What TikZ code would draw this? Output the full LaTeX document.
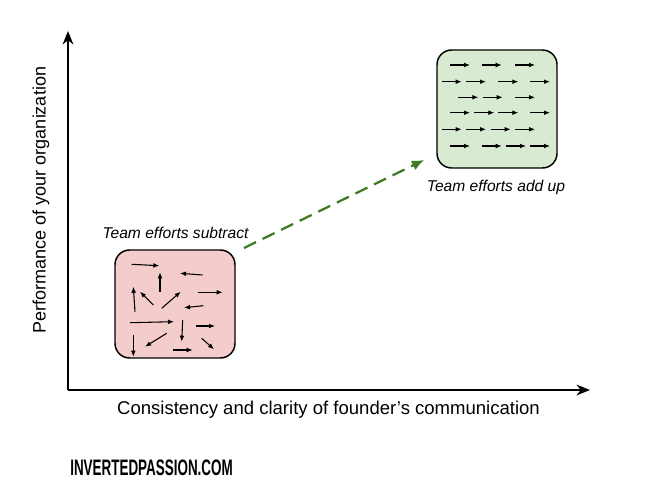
\documentclass[tikz,border=0pt]{standalone}
\usepackage{fontspec}
\setmainfont{Liberation Sans}
\usetikzlibrary{arrows.meta}
\definecolor{redfill}{HTML}{F4CCCC}
\definecolor{greenfill}{HTML}{D9EAD3}
\definecolor{dashgreen}{HTML}{3E7B25}
\tikzset{
  box/.style={draw=black, line width=1.1, rounded corners=11, minimum width=90, inner sep=0},
  axis/.style={line width=1.5, -{Stealth[length=10, width=8, inset=3]}},
  vec/.style={line width=0.8, -{Latex[length=4.5, width=3.6]}},
  lbl/.style={font=\fontsize{13.9pt}{16pt}\selectfont},
  ylbl/.style={font=\fontsize{13.5pt}{16pt}\selectfont},
  ital/.style={font=\fontsize{11.7pt}{14pt}\selectfont\itshape, inner sep=0},
}
\begin{document}
\begin{tikzpicture}[x=0.75pt, y=-0.75pt]
\useasboundingbox (0,0) rectangle (671,503);
% axes
\coordinate (O) at (68,390);
\coordinate (ytip) at (68,31);
\coordinate (xtip) at (590,390);
\draw[axis] (O) -- (ytip);
\draw[axis] (O) -- (xtip);
\node[lbl] (xlabel) at (328.5,410) {Consistency and clarity of founder’s communication};
\node[ylbl, rotate=90] (ylabel) at (41,200) {Performance of your organization};
% boxes
\node[box, fill=redfill, minimum height=81] (red) at (175,304) {};
\node[box, fill=greenfill, minimum height=88.5] (green) at (497,109) {};
\node[ital, anchor=base] (redlbl) at (175.5,238) {Team efforts subtract};
\node[ital, anchor=base] (greenlbl) at (496,191) {Team efforts add up};
% dashed connector
\coordinate (dstart) at (244,248);
\coordinate (dend) at (424,160);
\draw[line width=1.7, dashgreen, dash pattern=on 10 off 5.5, -{Latex[length=9, width=8]}] (dstart) -- (dend);
% chaotic arrows
\foreach \a/\b/\c/\d in {
131.7/264.3/159.3/265.7, 160/291.7/160/272.3, 202.7/275/180/273.3,
135/311.7/133.3/286.7, 153.3/305/140/291.7, 161.7/308.3/180.7/291.7,
198.3/292.3/222.7/292.3, 203.3/305.7/184/307.7, 130/322.7/174/321.7,
182.7/320/181.7/341.7, 196/326/215/326, 133.3/335/133.3/356.7,
166.7/333.3/145/346.7, 173.3/350/192.7/350, 201.7/338.3/214/349.3}
  \draw[vec] (\a,\b) -- (\c,\d);
% aligned arrows
\foreach \y/\xs in {65/{450,481.7,515}, 81.7/{441.7,466,498.3,530}, 97.3/{458.3,482.7,515},
  112.7/{450,474.3,498.3,530}, 129.3/{441.7,466,490.7,515}, 146/{450,481.7,506,530}}
  \foreach \x in \xs
    \draw[vec] (\x,\y) -- ++(20,0);
% brand
\node[anchor=west, inner sep=0] (brand) at (70,468) {\scalebox{0.6}[1]{\fontsize{16.8pt}{18pt}\selectfont\bfseries INVERTEDPASSION.COM}};
\end{tikzpicture}
\end{document}
